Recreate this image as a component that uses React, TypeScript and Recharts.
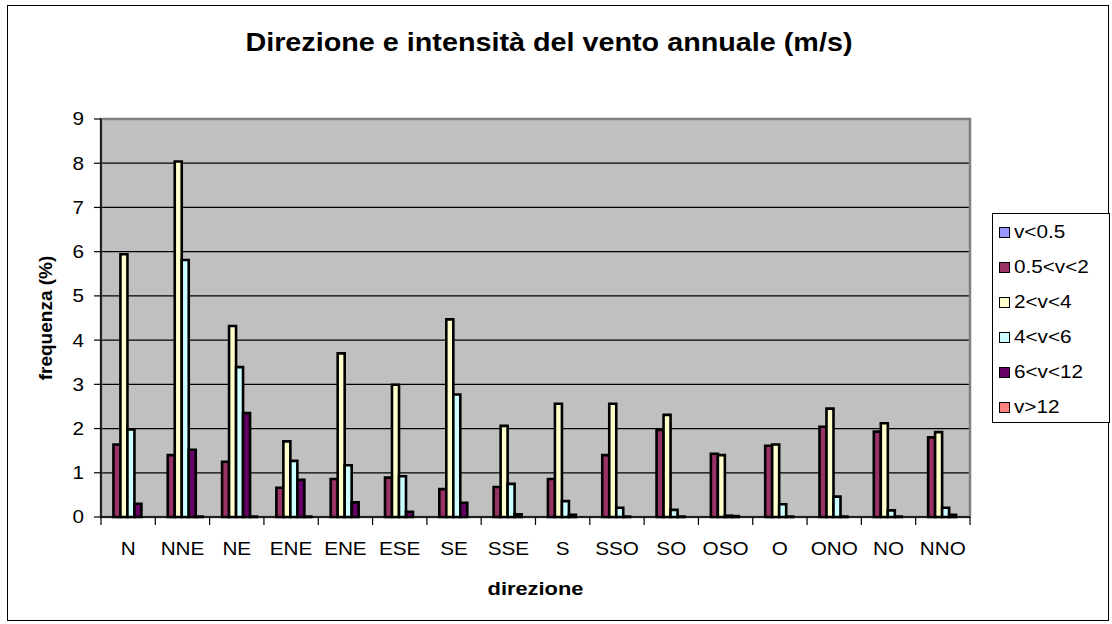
import React from 'react';
import { BarChart, Bar, XAxis, YAxis, CartesianGrid, ReferenceArea } from 'recharts';

const directions = ['N', 'NNE', 'NE', 'ENE', 'ENE', 'ESE', 'SE', 'SSE', 'S', 'SSO', 'SO', 'OSO', 'O', 'ONO', 'NO', 'NNO'];

const seriesNames = ['v<0.5', '0.5<v<2', '2<v<4', '4<v<6', '6<v<12', 'v>12'];
const seriesColors = ['#9999FF', '#993366', '#FFFFCC', '#CCFFFF', '#660066', '#FF8080'];

const vBelow05 = [0, 0, 0, 0, 0, 0, 0, 0, 0, 0, 0, 0, 0, 0, 0, 0];
const v05to2 = [1.64, 1.4, 1.25, 0.66, 0.86, 0.89, 0.63, 0.68, 0.86, 1.4, 1.97, 1.43, 1.61, 2.04, 1.93, 1.8];
const v2to4 = [5.94, 8.04, 4.32, 1.71, 3.7, 2.99, 4.47, 2.06, 2.56, 2.56, 2.31, 1.4, 1.64, 2.45, 2.12, 1.92];
const v4to6 = [1.98, 5.81, 3.39, 1.27, 1.17, 0.92, 2.77, 0.75, 0.36, 0.21, 0.16, 0.03, 0.29, 0.46, 0.15, 0.21];
const v6to12 = [0.3, 1.52, 2.35, 0.84, 0.33, 0.12, 0.32, 0.06, 0.05, 0.01, 0.01, 0.02, 0.01, 0.01, 0.01, 0.05];
const vAbove12 = [0, 0.01, 0.01, 0.01, 0, 0, 0, 0, 0, 0, 0, 0, 0, 0, 0, 0];

const seriesValues = [vBelow05, v05to2, v2to4, v4to6, v6to12, vAbove12];
const seriesKeys = ['s0', 's1', 's2', 's3', 's4', 's5'];

const yTicks = [0, 1, 2, 3, 4, 5, 6, 7, 8, 9];

const titleText = 'Direzione e intensità del vento annuale (m/s)';
const xTitle = 'direzione';
const yTitle = 'frequenza (%)';

const data = directions.map((d, i) => {
  const row: Record<string, any> = { dir: d };
  seriesKeys.forEach((k, j) => {
    row[k] = seriesValues[j][i];
  });
  return row;
});

const FONT = 'Arial, "Liberation Sans", sans-serif';
const STRETCH = 1.15;
const X_TICK_SIZE = 8;
const X_TICK_MARGIN = 17;

const YLabel = (props: any) => {
  const vb = props.viewBox || {};
  const cy = vb.y + vb.height / 2;
  return (
    <text
      transform={`translate(45, ${cy}) rotate(-90)`}
      textAnchor="middle"
      dominantBaseline="central"
      fontFamily={FONT}
      fontWeight="bold"
      fontSize={19}
      fill="#000"
    >
      {yTitle}
    </text>
  );
};

const XLabel = (props: any) => {
  const vb = props.viewBox || {};
  const cx = vb.x + vb.width / 2;
  return (
    <text
      transform={`translate(${cx}, ${vb.y + 71}) scale(${STRETCH}, 1)`}
      textAnchor="middle"
      dominantBaseline="central"
      fontFamily={FONT}
      fontWeight="bold"
      fontSize={19}
      fill="#000"
    >
      {xTitle}
    </text>
  );
};

const CategoryTick = (props: any) => {
  const { x, y, payload, index, visibleTicksCount } = props;
  const half = payload && typeof payload.offset === 'number' ? payload.offset : 0;
  const axisY = y - X_TICK_SIZE - X_TICK_MARGIN;
  const isLast = index === visibleTicksCount - 1;
  return (
    <g>
      <line x1={x - half} x2={x - half} y1={axisY} y2={axisY + X_TICK_SIZE} stroke="#000" strokeWidth={1.2} />
      {isLast && (
        <line x1={x + half} x2={x + half} y1={axisY} y2={axisY + X_TICK_SIZE} stroke="#000" strokeWidth={1.2} />
      )}
      <text
        transform={`translate(${x}, ${y + 13}) scale(${STRETCH}, 1)`}
        textAnchor="middle"
        fontFamily={FONT}
        fontSize={18}
        fill="#000"
      >
        {payload.value}
      </text>
    </g>
  );
};

const YTick = (props: any) => {
  const { x, y, payload } = props;
  return (
    <text
      transform={`translate(${x}, ${y}) scale(${STRETCH}, 1)`}
      textAnchor="end"
      dominantBaseline="central"
      fontFamily={FONT}
      fontSize={18}
      fill="#000"
    >
      {payload.value}
    </text>
  );
};

export default function App() {
  return (
    <div style={{ position: 'absolute', left: 0, top: 0, width: 1112, height: 624, background: '#fff', fontFamily: FONT }}>
      <div
        style={{
          position: 'absolute',
          left: 7,
          top: 5,
          width: 1102,
          height: 616,
          border: '1.5px solid #000',
          boxSizing: 'border-box',
        }}
      />
      <div
        style={{
          position: 'absolute',
          left: 0,
          top: 30,
          width: 1098,
          textAlign: 'center',
          whiteSpace: 'nowrap',
        }}
      >
        <span
          style={{
            display: 'inline-block',
            fontSize: 25,
            lineHeight: '25px',
            fontWeight: 'bold',
            color: '#000',
            transform: `scaleX(${STRETCH})`,
            transformOrigin: 'center',
          }}
        >
          {titleText}
        </span>
      </div>
      <div style={{ position: 'absolute', left: 0, top: 0 }}>
        <BarChart
          width={1112}
          height={624}
          data={data}
          margin={{ top: 119, right: 142, bottom: 57, left: 11 }}
          barGap={0}
          barCategoryGap="10%"
        >
          <CartesianGrid
            vertical={false}
            horizontal={true}
            fill="#C0C0C0"
            fillOpacity={1}
            stroke="#000"
            strokeWidth={1.2}
          />
          <ReferenceArea y1={0} y2={9} fill="none" stroke="#808080" strokeWidth={2.5} ifOverflow="visible" />
          <XAxis
            dataKey="dir"
            type="category"
            allowDuplicatedCategory
            interval={0}
            tickLine={false}
            tickSize={X_TICK_SIZE}
            tickMargin={X_TICK_MARGIN}
            axisLine={{ stroke: '#000', strokeWidth: 1.5 }}
            tick={<CategoryTick />}
            height={50}
            label={<XLabel />}
          />
          <YAxis
            domain={[0, 9]}
            ticks={yTicks}
            interval={0}
            width={90}
            tickSize={7}
            tickMargin={10}
            axisLine={{ stroke: '#000', strokeWidth: 1.5 }}
            tickLine={{ stroke: '#000', strokeWidth: 1.2 }}
            tick={<YTick />}
            label={<YLabel />}
          />
          {seriesKeys.map((k, j) => (
            <Bar
              key={k}
              dataKey={k}
              name={seriesNames[j]}
              fill={seriesColors[j]}
              stroke="#000"
              strokeWidth={2.6}
              isAnimationActive={false}
            />
          ))}
        </BarChart>
      </div>
      <div
        style={{
          position: 'absolute',
          left: 992,
          top: 213,
          width: 118,
          height: 210,
          border: '1px solid #000',
          boxSizing: 'border-box',
          background: '#fff',
          paddingTop: 1,
        }}
      >
        {seriesNames.map((n, j) => (
          <div key={n} style={{ height: 35, display: 'flex', alignItems: 'center', paddingLeft: 6 }}>
            <span
              style={{
                display: 'inline-block',
                width: 9,
                height: 9,
                background: seriesColors[j],
                border: '1.5px solid #000',
                marginRight: 4,
                flex: 'none',
              }}
            />
            <span
              style={{
                display: 'inline-block',
                fontSize: 18,
                color: '#000',
                whiteSpace: 'nowrap',
                transform: `scaleX(${STRETCH})`,
                transformOrigin: 'left center',
              }}
            >
              {n}
            </span>
          </div>
        ))}
      </div>
    </div>
  );
}
